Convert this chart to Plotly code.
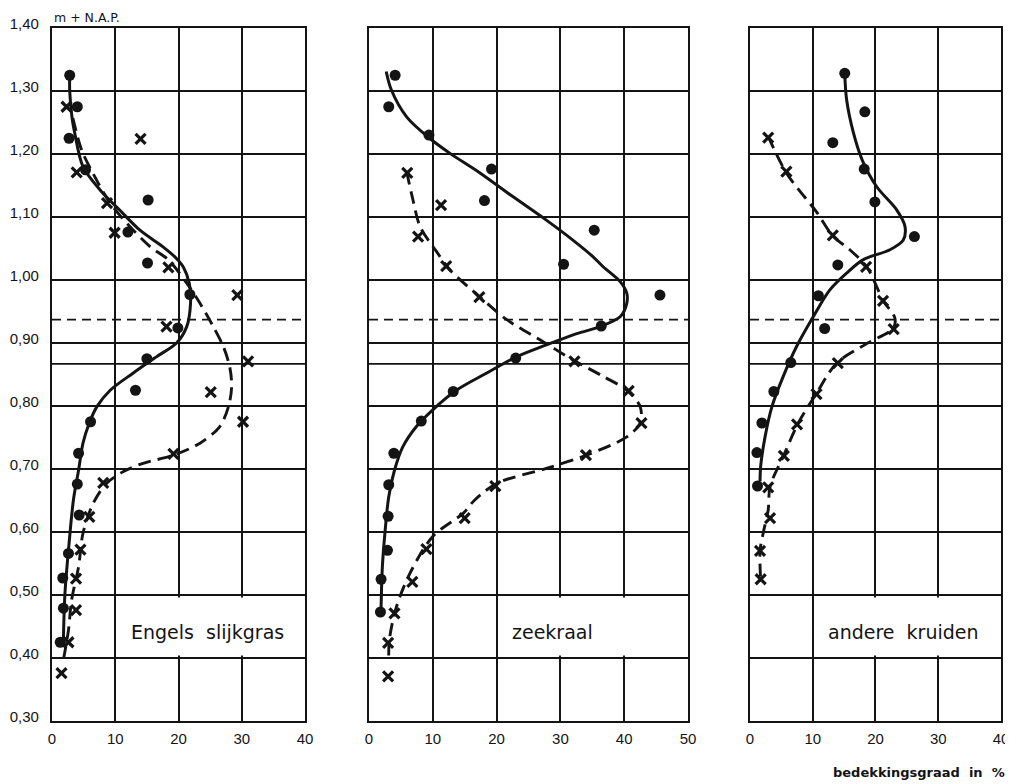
import plotly.graph_objects as go

# ---------------- data ----------------
# y-axis ticks (m + N.A.P.)
y_tickvals = [0.30, 0.40, 0.50, 0.60, 0.70, 0.80, 0.90, 1.00, 1.10, 1.20, 1.30, 1.40]
y_ticktext = ["0,30", "0,40", "0,50", "0,60", "0,70", "0,80", "0,90", "1,00", "1,10", "1,20", "1,30", "1,40"]
x_ticks_40 = [0, 10, 20, 30, 40]
x_ticks_50 = [0, 10, 20, 30, 40, 50]

# reference levels drawn across every panel
level_solid = 0.867
level_dashed = 0.937

panel_titles = ["Engels  slijkgras", "zeekraal", "andere  kruiden"]

# Panel 1: Engels slijkgras
p1_dot_x = [2.8, 4.0, 2.7, 5.3, 15.2, 12.0, 15.1, 21.8, 19.9, 15.0, 13.2, 6.1, 4.2, 4.0, 4.3, 2.6, 1.7, 1.8, 1.3]
p1_dot_y = [1.325, 1.275, 1.225, 1.175, 1.127, 1.076, 1.027, 0.977, 0.924, 0.875, 0.825, 0.775, 0.725, 0.676, 0.627, 0.566, 0.527, 0.479, 0.425]
p1_cross_x = [2.3, 14.0, 3.9, 8.7, 9.9, 18.4, 29.3, 18.1, 31.0, 25.1, 30.2, 19.2, 8.1, 5.9, 4.5, 3.8, 3.8, 2.6, 1.5]
p1_cross_y = [1.275, 1.224, 1.171, 1.122, 1.075, 1.020, 0.976, 0.926, 0.871, 0.822, 0.775, 0.724, 0.678, 0.624, 0.572, 0.526, 0.476, 0.425, 0.376]
p1_solid_x = [2.8, 2.8, 3.2, 3.6, 4.9, 7.6, 10.7, 13.9, 17.5, 19.6, 20.8, 21.7, 21.9, 21.3, 19.7, 16.5, 12.8, 9.2, 7.1, 5.9, 4.9, 4.2, 3.4, 2.6, 2.05, 1.8]
p1_solid_y = [1.325, 1.300, 1.255, 1.233, 1.180, 1.143, 1.111, 1.079, 1.053, 1.035, 1.020, 0.995, 0.963, 0.926, 0.900, 0.878, 0.852, 0.825, 0.799, 0.773, 0.741, 0.698, 0.652, 0.571, 0.503, 0.430]
p1_dash_x = [3.3, 4.7, 6.5, 9.2, 12.3, 15.5, 18.4, 21.3, 23.4, 25.5, 27.1, 28.1, 28.4, 27.9, 26.5, 23.4, 19.2, 14.4, 11.3, 8.6, 6.5, 4.9, 4.2, 3.1, 2.6, 1.8]
p1_dash_y = [1.257, 1.206, 1.169, 1.122, 1.085, 1.053, 1.032, 0.995, 0.963, 0.926, 0.894, 0.862, 0.831, 0.799, 0.767, 0.741, 0.722, 0.709, 0.696, 0.677, 0.645, 0.598, 0.545, 0.492, 0.444, 0.397]

# Panel 2: zeekraal
p2_dot_x = [4.1, 3.1, 9.4, 19.2, 18.1, 35.3, 30.5, 45.6, 36.4, 23.0, 13.2, 8.2, 3.9, 3.1, 3.0, 2.9, 1.9, 1.8]
p2_dot_y = [1.325, 1.275, 1.230, 1.176, 1.126, 1.079, 1.025, 0.976, 0.927, 0.876, 0.823, 0.776, 0.725, 0.675, 0.625, 0.571, 0.525, 0.473]
p2_cross_x = [6.0, 11.3, 7.7, 12.1, 17.3, 32.2, 40.7, 42.7, 34.0, 19.8, 15.0, 9.0, 6.8, 4.0, 3.0, 3.0]
p2_cross_y = [1.170, 1.119, 1.069, 1.022, 0.973, 0.871, 0.824, 0.773, 0.722, 0.673, 0.622, 0.573, 0.521, 0.471, 0.424, 0.371]
p2_solid_x = [2.7, 3.5, 5.9, 9.5, 12.7, 17.4, 22.6, 27.8, 32.0, 35.0, 36.7, 39.4, 40.4, 40.4, 39.4, 36.2, 32.0, 27.8, 23.1, 18.4, 13.7, 10.0, 7.4, 5.3, 4.0, 3.1, 2.5, 2.1, 1.9]
p2_solid_y = [1.331, 1.302, 1.259, 1.225, 1.201, 1.170, 1.132, 1.095, 1.063, 1.038, 1.021, 0.997, 0.979, 0.963, 0.942, 0.926, 0.913, 0.897, 0.878, 0.852, 0.825, 0.794, 0.767, 0.735, 0.698, 0.656, 0.598, 0.545, 0.481]
p2_dash_x = [5.9, 6.9, 8.0, 10.6, 12.7, 17.4, 21.6, 26.8, 32.0, 36.7, 40.4, 42.5, 42.5, 40.4, 34.1, 27.8, 20.0, 16.5, 14.8, 10.0, 6.4, 4.3, 3.2, 3.1]
p2_dash_y = [1.172, 1.127, 1.085, 1.045, 1.016, 0.973, 0.937, 0.905, 0.873, 0.847, 0.825, 0.799, 0.773, 0.751, 0.722, 0.701, 0.677, 0.650, 0.630, 0.593, 0.534, 0.481, 0.429, 0.397]

# Panel 3: andere kruiden
p3_dot_x = [15.1, 18.3, 13.2, 18.2, 19.9, 26.2, 14.0, 10.9, 11.9, 6.5, 3.8, 1.9, 1.1, 1.2]
p3_dot_y = [1.328, 1.267, 1.218, 1.176, 1.124, 1.069, 1.024, 0.975, 0.923, 0.869, 0.823, 0.773, 0.726, 0.673]
p3_cross_x = [2.9, 5.8, 13.2, 18.5, 21.2, 22.9, 14.0, 10.6, 7.5, 5.4, 2.9, 3.2, 1.6, 1.7]
p3_cross_y = [1.226, 1.172, 1.071, 1.021, 0.967, 0.922, 0.868, 0.819, 0.771, 0.721, 0.671, 0.622, 0.570, 0.525]
p3_solid_x = [15.1, 15.4, 16.5, 17.9, 20.2, 23.4, 24.7, 24.4, 22.3, 18.0, 15.4, 12.7, 10.1, 7.4, 5.3, 3.5, 2.4, 1.7, 1.6]
p3_solid_y = [1.327, 1.286, 1.233, 1.190, 1.148, 1.111, 1.085, 1.063, 1.048, 1.032, 1.011, 0.984, 0.942, 0.894, 0.847, 0.799, 0.751, 0.704, 0.680]
p3_dash_x = [2.9, 5.8, 10.6, 13.2, 15.9, 18.6, 21.2, 23.1, 22.8, 18.6, 13.8, 10.6, 7.7, 5.3, 3.2, 2.9, 2.1, 1.6, 1.7]
p3_dash_y = [1.228, 1.170, 1.108, 1.070, 1.048, 1.021, 0.968, 0.939, 0.923, 0.899, 0.868, 0.820, 0.773, 0.720, 0.672, 0.635, 0.598, 0.570, 0.525]

# ---------------- figure ----------------
INK = "#141414"
FONT = "DejaVu Sans"
TICKFONT = "Liberation Sans"

panels = [
    dict(xa="x", ya="y", xmax=40, ticks=x_ticks_40, domain=[0.0, 0.2666], box=(10, 40), label_x=24.6,
         dots=(p1_dot_x, p1_dot_y), cross=(p1_cross_x, p1_cross_y),
         solid=(p1_solid_x, p1_solid_y), dash=(p1_dash_x, p1_dash_y)),
    dict(xa="x2", ya="y2", xmax=50, ticks=x_ticks_50, domain=[0.334, 0.6702], box=(20, 50), label_x=28.8,
         dots=(p2_dot_x, p2_dot_y), cross=(p2_cross_x, p2_cross_y),
         solid=(p2_solid_x, p2_solid_y), dash=(p2_dash_x, p2_dash_y)),
    dict(xa="x3", ya="y3", xmax=40, ticks=x_ticks_40, domain=[0.7355, 1.0], box=(10, 40), label_x=24.4,
         dots=(p3_dot_x, p3_dot_y), cross=(p3_cross_x, p3_cross_y),
         solid=(p3_solid_x, p3_solid_y), dash=(p3_dash_x, p3_dash_y)),
]

fig = go.Figure()
shapes = []
annotations = []
layout_axes = {}

for i, p in enumerate(panels):
    n = "" if i == 0 else str(i + 1)
    fig.add_trace(go.Scatter(x=p["solid"][0], y=p["solid"][1], xaxis=p["xa"], yaxis=p["ya"],
                             mode="lines", line=dict(color=INK, width=3, shape="spline", smoothing=0.9),
                             hoverinfo="skip", showlegend=False))
    fig.add_trace(go.Scatter(x=p["dash"][0], y=p["dash"][1], xaxis=p["xa"], yaxis=p["ya"],
                             mode="lines", line=dict(color=INK, width=2.9, shape="spline", smoothing=0.9,
                                                     dash="13px,7px"),
                             hoverinfo="skip", showlegend=False))
    fig.add_trace(go.Scatter(x=p["dots"][0], y=p["dots"][1], xaxis=p["xa"], yaxis=p["ya"],
                             mode="markers", marker=dict(symbol="circle", size=11, color=INK),
                             showlegend=False))
    fig.add_trace(go.Scatter(x=p["cross"][0], y=p["cross"][1], xaxis=p["xa"], yaxis=p["ya"],
                             mode="markers",
                             marker=dict(symbol="x-thin", size=10, color=INK, line=dict(width=3.2, color=INK)),
                             showlegend=False))

    layout_axes["xaxis" + n] = dict(
        domain=p["domain"], range=[0, p["xmax"]], anchor=p["ya"], automargin=False,
        tickvals=p["ticks"], ticktext=[str(t) for t in p["ticks"]],
        showgrid=True, gridcolor=INK, gridwidth=1.6, zeroline=False,
        showline=True, linecolor=INK, linewidth=2.2, mirror=True,
        ticks="", ticklabelstandoff=3,
        tickfont=dict(family=TICKFONT, size=15, color=INK),
        fixedrange=True,
    )
    layout_axes["yaxis" + n] = dict(
        domain=[0, 1], range=[0.30, 1.40], anchor=p["xa"], automargin=False,
        tickvals=y_tickvals, ticktext=y_ticktext, showticklabels=(i == 0),
        showgrid=True, gridcolor=INK, gridwidth=1.6, zeroline=False,
        showline=True, linecolor=INK, linewidth=2.2, mirror=True,
        ticks="", ticklabelstandoff=8, ticklabelshift=-4,
        tickfont=dict(family=TICKFONT, size=15, color=INK),
        fixedrange=True,
    )

    # reference levels
    shapes.append(dict(type="line", xref=p["xa"] + " domain", yref=p["ya"], x0=0, x1=1,
                       y0=level_solid, y1=level_solid, line=dict(color=INK, width=1.7), layer="below"))
    shapes.append(dict(type="line", xref=p["xa"] + " domain", yref=p["ya"], x0=0, x1=1,
                       y0=level_dashed, y1=level_dashed, line=dict(color=INK, width=1.7, dash="9px,6px"),
                       layer="below"))
    # white label box hiding the grid behind the panel label
    shapes.append(dict(type="rect", xref=p["xa"], yref=p["ya"],
                       x0=p["box"][0] + 0.3, x1=p["box"][1] - 0.3, y0=0.404, y1=0.496,
                       fillcolor="white", line=dict(width=0), layer="between"))
    annotations.append(dict(text=panel_titles[i], xref=p["xa"], yref=p["ya"], x=p["label_x"], y=0.442,
                            showarrow=False, font=dict(family=FONT, size=19, color=INK)))

annotations.append(dict(text="m + N.A.P.", xref="paper", yref="paper", x=0.0, y=1.0,
                        xanchor="left", yanchor="bottom", yshift=1, showarrow=False,
                        font=dict(family=FONT, size=12.5, color=INK)))
annotations.append(dict(text="<b>bedekkingsgraad  in  %</b>", xref="paper", yref="paper", x=1.0, y=0.0,
                        xanchor="right", yanchor="middle", xshift=6, yshift=-51, showarrow=False,
                        font=dict(family=FONT, size=13, color=INK)))

# The page body adds an 8 px offset; size the figure so the plot area lands where the reference has it.
fig.update_layout(
    width=1005, height=776,
    margin=dict(l=44, r=12, t=20, b=63, autoexpand=False),
    paper_bgcolor="white", plot_bgcolor="white",
    shapes=shapes, annotations=annotations,
    **layout_axes,
)

fig.write_html("out.html")
